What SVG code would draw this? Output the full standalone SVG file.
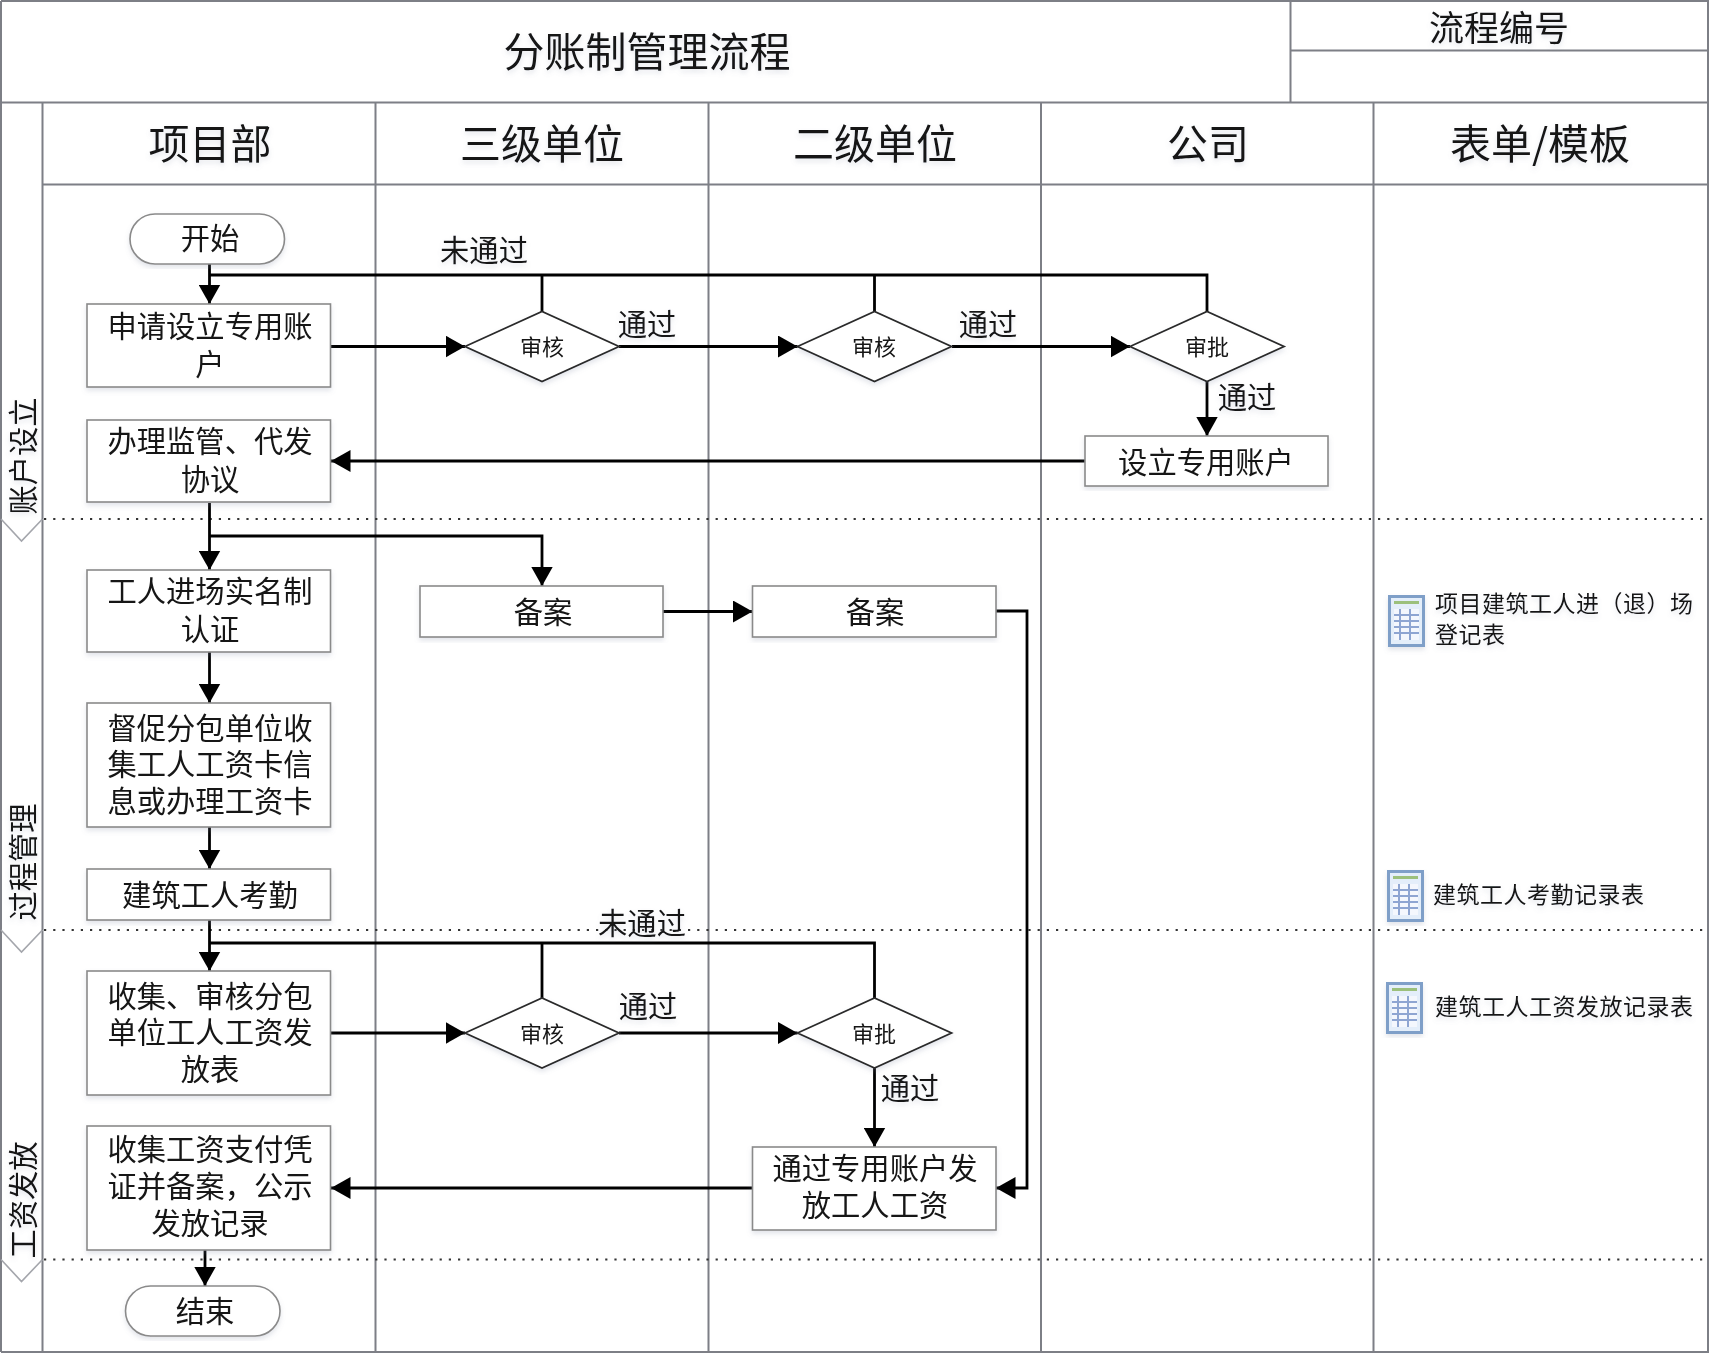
<svg xmlns="http://www.w3.org/2000/svg" xmlns:xlink="http://www.w3.org/1999/xlink" width="1709" height="1357" viewBox="0 0 1709 1357">
<style>
text{font-family:"Noto Sans CJK SC","Noto Sans",sans-serif;fill:#141414;text-anchor:middle;dominant-baseline:central}
.frame{fill:none;stroke:#7d7f86;stroke-width:2}
.chev{fill:none;stroke:#a4a6ac;stroke-width:1.6}
.dot{fill:none;stroke:#333;stroke-width:2.2;stroke-dasharray:2.2 7}
.box{fill:#fff;stroke:#8a8a8a;stroke-width:1.6}
.dia{fill:#fff;stroke:#2a2a2a;stroke-width:1.8}
.con{fill:none;stroke:#000;stroke-width:2.8}
.t{font-size:29.300px}
.h{font-size:41px}
.s{font-size:22px}
.f{font-size:23px;letter-spacing:.5px;text-anchor:start}
.shd{filter:url(#soft)}
</style>
<defs>
<filter id="soft" x="-5%" y="-5%" width="110%" height="115%"><feDropShadow dx="0" dy="3" stdDeviation="2.5" flood-color="#7f8aa0" flood-opacity=".22"/></filter>
<marker id="arr" markerUnits="userSpaceOnUse" markerWidth="20" markerHeight="22" refX="19.500" refY="11" orient="auto"><path d="M0 0L19.500 11L0 22Z" fill="#000"/></marker>
<symbol id="sheet" viewBox="0 0 37 52" width="37" height="52">
<rect x="1.500" y="1.500" width="34" height="49" fill="#e4eefa" stroke="#7f9fc8" stroke-width="3"/>
<rect x="6" y="6" width="25" height="3" fill="#9cc07c"/>
<rect x="6" y="14" width="25" height="31" fill="#f4f7fd"/>
<path d="M6 20H31M6 26H31M6 32H31M6 38H31M12 14V45M22 14V45" stroke="#8ea5d2" stroke-width="2" fill="none"/>
</symbol>
</defs>
<rect width="1709" height="1357" fill="#fff"/>
<g id="frame">
<path class="frame" d="M1 1H1708V1352H1M1 1V1352M1 102.500H1708M1290.500 1V102.500M1290.500 50.500H1708M42.500 102.500V1352M375.500 102.500V1352M708.500 102.500V1352M1041 102.500V1352M1373.500 102.500V1352M42.500 184.500H1708"/>
<path class="dot" d="M44 519H1704M44 930H1704M44 1259.500H1704"/>
<path class="chev" d="M1 519L21.500 541L42.500 519M1 930L21.500 952L42.500 930M1 1259.500L21.500 1281.500L42.500 1259.500"/>
</g>
<g id="labels" class="shd">
<text x="647" y="49" style="font-size:41px">分账制管理流程</text>
<text x="1499" y="25" style="font-size:35px">流程编号</text>
<text class="h" x="210" y="141">项目部</text>
<text class="h" x="542" y="141">三级单位</text>
<text class="h" x="875" y="141">二级单位</text>
<text class="h" x="1208" y="141">公司</text>
<text class="h" x="1540" y="141">表单/模板</text>
<text class="t" transform="translate(21 456) rotate(-90)">账户设立</text>
<text class="t" transform="translate(21 862) rotate(-90)">过程管理</text>
<text class="t" transform="translate(21 1200) rotate(-90)">工资发放</text>
</g>
<g id="connectors">
<path class="con" d="M209.500 264V304" marker-end="url(#arr)"/>
<path class="con" d="M209.500 275H1207V312M542 275V312M874.500 275V312"/>
<path class="con" d="M330.500 346.500H465" marker-end="url(#arr)"/>
<path class="con" d="M619 346.500H797.500" marker-end="url(#arr)"/>
<path class="con" d="M952 346.500H1130" marker-end="url(#arr)"/>
<path class="con" d="M1207 381V436" marker-end="url(#arr)"/>
<path class="con" d="M1085 461H331" marker-end="url(#arr)"/>
<path class="con" d="M209.500 503V570" marker-end="url(#arr)"/>
<path class="con" d="M209.500 536H542V586" marker-end="url(#arr)"/>
<path class="con" d="M663 611.500H752.500" marker-end="url(#arr)"/>
<path class="con" d="M996 611H1027V1188H996" marker-end="url(#arr)"/>
<path class="con" d="M209.500 652V703" marker-end="url(#arr)"/>
<path class="con" d="M209.500 827V869" marker-end="url(#arr)"/>
<path class="con" d="M209.500 920V971" marker-end="url(#arr)"/>
<path class="con" d="M209.500 943H874.500V998M542 943V998"/>
<path class="con" d="M330.500 1033H465" marker-end="url(#arr)"/>
<path class="con" d="M619 1033H797.500" marker-end="url(#arr)"/>
<path class="con" d="M874.500 1068V1147" marker-end="url(#arr)"/>
<path class="con" d="M752.500 1188H331" marker-end="url(#arr)"/>
<path class="con" d="M205 1250V1286" marker-end="url(#arr)"/>
</g>
<g id="edge-labels" class="shd">
<text class="t" x="484" y="248">未通过</text>
<text class="t" x="647" y="322">通过</text>
<text class="t" x="988" y="322">通过</text>
<text class="t" x="1247" y="395">通过</text>
<text class="t" x="642" y="921">未通过</text>
<text class="t" x="648" y="1004">通过</text>
<text class="t" x="910" y="1086">通过</text>
</g>
<g id="n-start" class="shd"><rect class="box" x="130" y="214" width="154.500" height="50" rx="25"/><text class="t" x="210" y="236">开始</text></g>
<g id="n-apply" class="shd"><rect class="box" x="87" y="304" width="243.500" height="83"/><text class="t" x="210" y="324">申请设立专用账</text><text class="t" x="210" y="362">户</text></g>
<g id="n-agreement" class="shd"><rect class="box" x="87" y="420" width="243.500" height="82"/><text class="t" x="210" y="439">办理监管、代发</text><text class="t" x="210" y="477">协议</text></g>
<g id="n-realname" class="shd"><rect class="box" x="87" y="570" width="243.500" height="82"/><text class="t" x="210" y="589">工人进场实名制</text><text class="t" x="210" y="627">认证</text></g>
<g id="n-urge" class="shd"><rect class="box" x="87" y="703" width="243.500" height="124"/><text class="t" x="210" y="726">督促分包单位收</text><text class="t" x="210" y="762">集工人工资卡信</text><text class="t" x="210" y="799">息或办理工资卡</text></g>
<g id="n-attendance" class="shd"><rect class="box" x="87" y="869" width="243.500" height="51"/><text class="t" x="210" y="893">建筑工人考勤</text></g>
<g id="n-collect" class="shd"><rect class="box" x="87" y="971" width="243.500" height="124"/><text class="t" x="210" y="994">收集、审核分包</text><text class="t" x="210" y="1030">单位工人工资发</text><text class="t" x="210" y="1067">放表</text></g>
<g id="n-proof" class="shd"><rect class="box" x="87" y="1126" width="243.500" height="124"/><text class="t" x="210" y="1147">收集工资支付凭</text><text class="t" x="210" y="1184">证并备案，公示</text><text class="t" x="210" y="1221">发放记录</text></g>
<g id="n-end" class="shd"><rect class="box" x="125.500" y="1286" width="154.500" height="50" rx="25"/><text class="t" x="205" y="1309">结束</text></g>
<g id="n-review1" class="shd"><path class="dia" d="M465 346.500L542 311.500L619 346.500L542 381.500Z"/><text class="s" x="542" y="345">审核</text></g>
<g id="n-review2" class="shd"><path class="dia" d="M797.500 346.500L874.500 311.500L951.500 346.500L874.500 381.500Z"/><text class="s" x="874" y="345">审核</text></g>
<g id="n-approve1" class="shd"><path class="dia" d="M1130 346.500L1207 311.500L1284 346.500L1207 381.500Z"/><text class="s" x="1207" y="345">审批</text></g>
<g id="n-setup" class="shd"><rect class="box" x="1085" y="436" width="243" height="50"/><text class="t" x="1206" y="460">设立专用账户</text></g>
<g id="n-file1" class="shd"><rect class="box" x="420" y="586" width="243" height="51"/><text class="t" x="543" y="610">备案</text></g>
<g id="n-file2" class="shd"><rect class="box" x="752.500" y="586" width="243.500" height="51"/><text class="t" x="875" y="610">备案</text></g>
<g id="n-review3" class="shd"><path class="dia" d="M465 1033L542 998L619 1033L542 1068Z"/><text class="s" x="542" y="1032">审核</text></g>
<g id="n-approve2" class="shd"><path class="dia" d="M797.500 1033L874.500 998L951.500 1033L874.500 1068Z"/><text class="s" x="874" y="1032">审批</text></g>
<g id="n-pay" class="shd"><rect class="box" x="752.500" y="1147" width="243.500" height="83"/><text class="t" x="875" y="1166">通过专用账户发</text><text class="t" x="875" y="1203">放工人工资</text></g>
<g id="form-1" class="shd"><use xlink:href="#sheet" href="#sheet" x="1388" y="595"/><text class="f" x="1435" y="602">项目建筑工人进（退）场</text><text class="f" x="1435" y="633">登记表</text></g>
<g id="form-2" class="shd"><use xlink:href="#sheet" href="#sheet" x="1387" y="870"/><text class="f" x="1433" y="893">建筑工人考勤记录表</text></g>
<g id="form-3" class="shd"><use xlink:href="#sheet" href="#sheet" x="1386" y="982"/><text class="f" x="1435" y="1005">建筑工人工资发放记录表</text></g>
</svg>
